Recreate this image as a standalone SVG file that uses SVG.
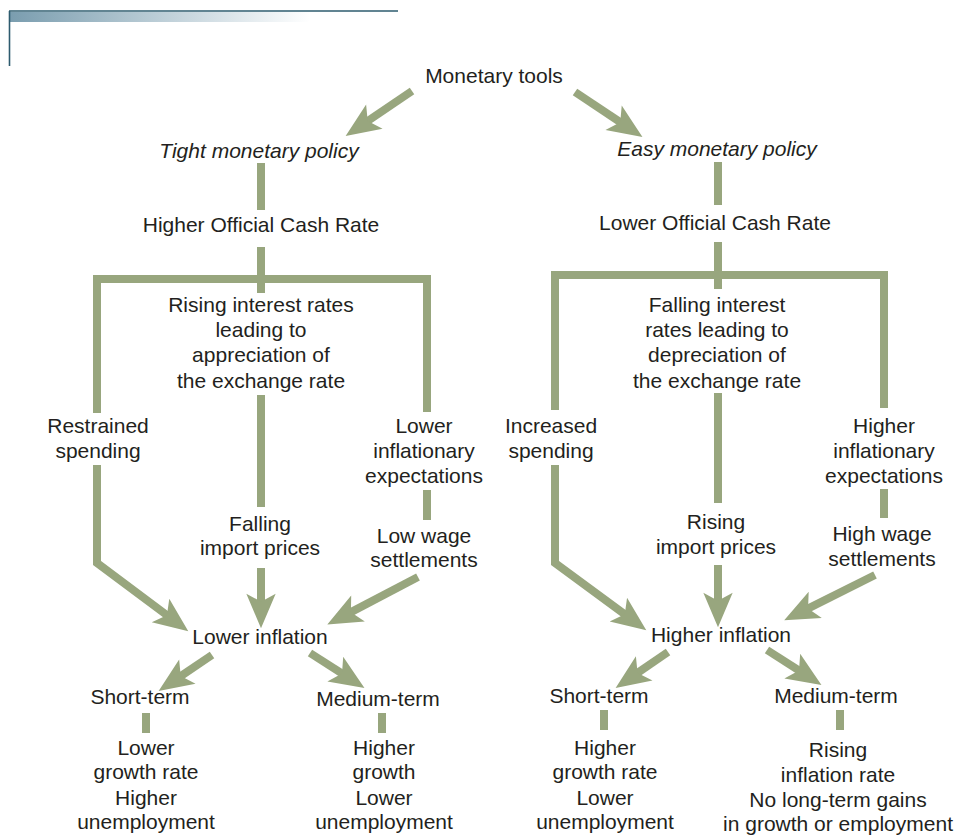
<svg xmlns="http://www.w3.org/2000/svg" width="961" height="836" viewBox="0 0 961 836">
<defs>
<linearGradient id="bar" x1="0" y1="0" x2="1" y2="0">
<stop offset="0" stop-color="#7a9daf"/>
<stop offset="1" stop-color="#ffffff"/>
</linearGradient>
<marker id="ah" markerUnits="userSpaceOnUse" markerWidth="40" markerHeight="40" viewBox="-12 -14 30 28" refX="0" refY="0" orient="auto" overflow="visible">
<path d="M16,0 L-10,-11 L-4,0 L-10,11 Z" fill="#98a67e"/>
</marker>
<style>
text{font-family:"Liberation Sans",Arial,Helvetica,sans-serif;font-size:21px;fill:#231f20;text-anchor:middle}
.it{font-style:italic}
.ln{fill:none;stroke:#98a67e;stroke-width:8;stroke-linejoin:miter;stroke-linecap:butt}
.ar{marker-end:url(#ah)}
</style>
</defs>
<rect width="961" height="836" fill="#ffffff"/>
<g id="frame">
<rect x="10" y="12" width="300" height="10" fill="url(#bar)"/>
<line x1="9" y1="11" x2="398" y2="11" stroke="#2d5b6e" stroke-width="1.6"/>
<line x1="9.5" y1="11" x2="9.5" y2="66" stroke="#2d5b6e" stroke-width="1.6"/>
</g>
<g id="connectors">
<path class="ln ar" d="M412,91 L363.3,124"/>
<path class="ln ar" d="M575,92 L624.7,125.1"/>
<path class="ln" d="M261,163 V210"/>
<path class="ln" d="M261,247 V293"/>
<path class="ln" d="M97,413 V279 H427 V412"/>
<path class="ln ar" d="M97,465 V563 L171.2,618.4"/>
<path class="ln" d="M261,395 V507"/>
<path class="ln ar" d="M261,568 V607"/>
<path class="ln" d="M427,490 V520"/>
<path class="ln ar" d="M418,577 L346.2,614.6"/>
<path class="ln ar" d="M212,655 L176.3,679.1"/>
<path class="ln ar" d="M310,653 L346.5,676.4"/>
<path class="ln" d="M146,713 V733"/>
<path class="ln" d="M382,713 V733"/>
<path class="ln" d="M718,162 V205"/>
<path class="ln" d="M718,242 V289"/>
<path class="ln" d="M555,410 V275 H884 V408"/>
<path class="ln ar" d="M555,465 V563 L629.1,617.5"/>
<path class="ln" d="M718,393 V503"/>
<path class="ln ar" d="M718,565 V606"/>
<path class="ln" d="M884,489 V518"/>
<path class="ln ar" d="M875,575 L803.3,610.8"/>
<path class="ln ar" d="M668,652 L633.2,675.9"/>
<path class="ln ar" d="M767,650 L803.5,673.4"/>
<path class="ln" d="M604,710 V730"/>
<path class="ln" d="M840,710 V730"/>
</g>
<g id="n-monetary-tools"><text x="494" y="83">Monetary tools</text></g>
<g id="n-tight"><text class="it" x="259" y="158">Tight monetary policy</text></g>
<g id="n-easy"><text class="it" x="717" y="156">Easy monetary policy</text></g>
<g id="n-higher-ocr"><text x="261" y="232">Higher Official Cash Rate</text></g>
<g id="n-lower-ocr"><text x="715" y="230">Lower Official Cash Rate</text></g>
<g id="n-rising-interest"><text x="261" y="312">Rising interest rates</text><text x="261" y="337">leading to</text><text x="261" y="362">appreciation of</text><text x="261" y="388">the exchange rate</text></g>
<g id="n-falling-interest"><text x="717" y="312">Falling interest</text><text x="717" y="337">rates leading to</text><text x="717" y="362">depreciation of</text><text x="717" y="388">the exchange rate</text></g>
<g id="n-restrained"><text x="98" y="433">Restrained</text><text x="98" y="458">spending</text></g>
<g id="n-lower-expect"><text x="424" y="433">Lower</text><text x="424" y="458">inflationary</text><text x="424" y="483">expectations</text></g>
<g id="n-falling-import"><text x="260" y="531">Falling</text><text x="260" y="555">import prices</text></g>
<g id="n-low-wage"><text x="424" y="543">Low wage</text><text x="424" y="567">settlements</text></g>
<g id="n-increased"><text x="551" y="433">Increased</text><text x="551" y="458">spending</text></g>
<g id="n-higher-expect"><text x="884" y="433">Higher</text><text x="884" y="458">inflationary</text><text x="884" y="483">expectations</text></g>
<g id="n-rising-import"><text x="716" y="529">Rising</text><text x="716" y="554">import prices</text></g>
<g id="n-high-wage"><text x="882" y="541">High wage</text><text x="882" y="566">settlements</text></g>
<g id="n-lower-inflation"><text x="260" y="644">Lower inflation</text></g>
<g id="n-higher-inflation"><text x="721" y="642">Higher inflation</text></g>
<g id="n-short-left"><text x="140" y="704">Short-term</text></g>
<g id="n-medium-left"><text x="378" y="706">Medium-term</text></g>
<g id="n-short-right"><text x="599" y="703">Short-term</text></g>
<g id="n-medium-right"><text x="836" y="703">Medium-term</text></g>
<g id="n-short-left-res"><text x="146" y="755">Lower</text><text x="146" y="779">growth rate</text><text x="146" y="805">Higher</text><text x="146" y="829">unemployment</text></g>
<g id="n-medium-left-res"><text x="384" y="755">Higher</text><text x="384" y="779">growth</text><text x="384" y="805">Lower</text><text x="384" y="829">unemployment</text></g>
<g id="n-short-right-res"><text x="605" y="755">Higher</text><text x="605" y="779">growth rate</text><text x="605" y="805">Lower</text><text x="605" y="829">unemployment</text></g>
<g id="n-medium-right-res"><text x="838" y="757">Rising</text><text x="838" y="782">inflation rate</text><text x="838" y="807">No long-term gains</text><text x="838" y="831">in growth or employment</text></g>
</svg>
